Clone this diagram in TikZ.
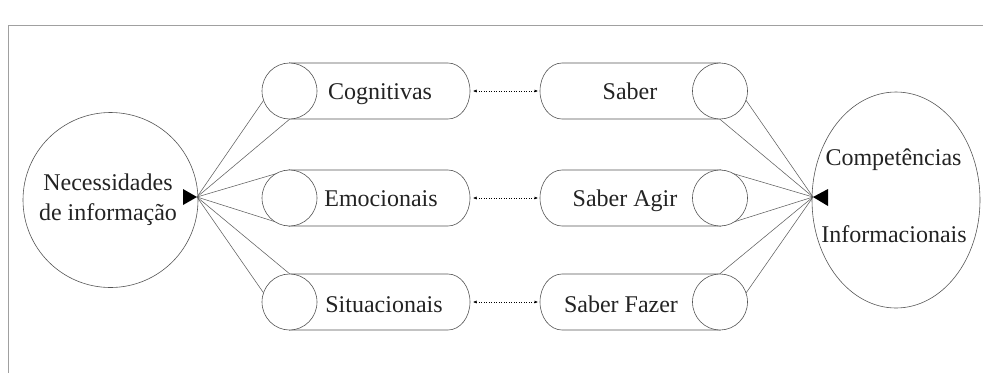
\documentclass[tikz,border=0pt]{standalone}
\usepackage{fontspec}
\setmainfont{Liberation Serif}
\usetikzlibrary{arrows.meta,backgrounds}
\definecolor{framec}{RGB}{160,160,160}
\definecolor{linec}{RGB}{95,95,95}
\definecolor{shapec}{RGB}{85,85,85}
\definecolor{textc}{RGB}{35,35,35}
\tikzset{
  fan/.style={draw=linec,line width=0.55pt},
  shp/.style={draw=shapec,line width=0.6pt,fill=white},
  lbl/.style={text=textc,font=\fontsize{24}{28}\selectfont,anchor=base,inner sep=0pt},
  endell/.style={shp,ellipse,minimum width=55pt,minimum height=56pt,inner sep=0pt},
  dotarrow/.style={draw=black,dotted,line width=0.5pt,{Latex[length=3.5pt,width=3pt]}-{Latex[length=3.5pt,width=3pt]}},
  tipfill/.style={fill=black,draw=none}
}
\usetikzlibrary{shapes.geometric}
\begin{document}
\begin{tikzpicture}[x=1pt,y=-1pt]
\useasboundingbox (0,0) rectangle (983,373);
% frame
\draw[framec,line width=0.8pt] (8,373) -- (8,25) -- (983,25);

% big shapes
\node[draw=shapec,line width=0.6pt,circle,minimum size=175pt,inner sep=0pt] (nec) at (110.5,200) {};
\node[draw=shapec,line width=0.6pt,ellipse,minimum width=168pt,minimum height=216pt,inner sep=0pt] (comp) at (896,200) {};

% tips
\coordinate (lt) at (197,197);
\coordinate (rt) at (813,197);

% left cylinders: bodies
\foreach \nm/\cy in {cog/91,emo/198,sit/302}{
  \draw[shp] (289.5,\cy-28) -- (448,\cy-28) arc[start angle=90,end angle=-90,x radius=22pt,y radius=28pt] -- (289.5,\cy+28) -- cycle;
  \coordinate (\nm R) at (470,\cy);
  \node[endell] (\nm E) at (289.5,\cy) {};
}
% right cylinders: bodies
\foreach \nm/\cy in {sab/91,agi/198,faz/302}{
  \draw[shp] (562,\cy-28) -- (720,\cy-28) -- (720,\cy+28) -- (562,\cy+28) arc[start angle=-90,end angle=-270,x radius=22pt,y radius=28pt] -- cycle;
  \coordinate (\nm L) at (540,\cy);
  \node[endell] (\nm E) at (720,\cy) {};
}

% fan lines (behind)
\begin{pgfonlayer}{background}
\foreach \nm in {cog,emo,sit}{
  \draw[fan] (lt) -- (\nm E.north);
  \draw[fan] (lt) -- (\nm E.south);
}
\foreach \nm in {sab,agi,faz}{
  \draw[fan] (\nm E.north) -- (rt);
  \draw[fan] (\nm E.south) -- (rt);
}
\end{pgfonlayer}

% arrow tips
\fill[tipfill] (lt) -- (183,189) -- (183,205) -- cycle;
\fill[tipfill] (rt) -- (828,189) -- (828,206) -- cycle;

% dotted double arrows
\foreach \a/\b in {cog/sab,emo/agi,sit/faz}{
  \draw[dotarrow,shorten <=3pt,shorten >=2pt] (\a R) -- (\b L);
}

% labels
\node[lbl] (t1) at (108,190) {Necessidades};
\node[lbl] (t2) at (108,220) {de informação};
\node[lbl] (t3) at (893.5,165) {Competências};
\node[lbl] (t4) at (894,242) {Informacionais};
\node[lbl] (t5) at (380,99) {Cognitivas};
\node[lbl] (t6) at (381,206) {Emocionais};
\node[lbl] (t7) at (384,312) {Situacionais};
\node[lbl] (t8) at (630,99) {Saber};
\node[lbl] (t9) at (625,206) {Saber Agir};
\node[lbl] (t10) at (621,312) {Saber Fazer};
\end{tikzpicture}
\end{document}
